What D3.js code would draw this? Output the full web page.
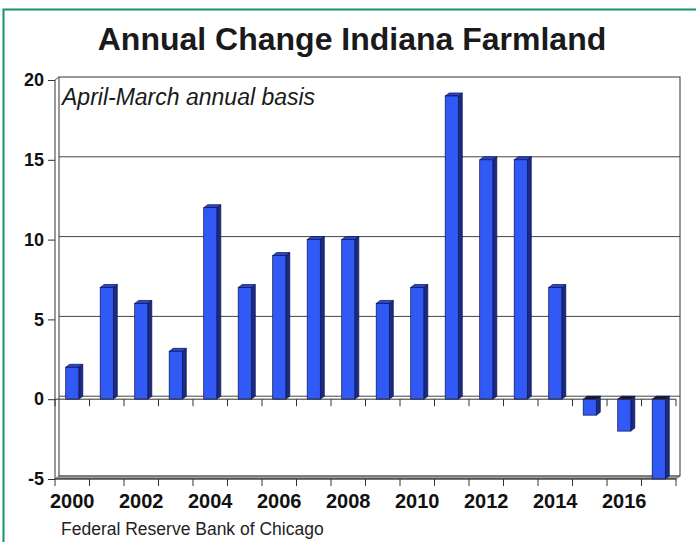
<!DOCTYPE html>
<html>
<head>
<meta charset="utf-8">
<script src="https://cdn.jsdelivr.net/npm/d3@7"></script>
<style>
	body { margin: 0; background: #fff; }
	svg { display: block; font-family: Arial, "Liberation Sans", sans-serif; }
</style>
</head>
<body>
<svg id="chart" width="696" height="542"></svg>
<script>
'use strict';

var years = ['2000', '2001', '2002', '2003', '2004', '2005', '2006', '2007', '2008',
	'2009', '2010', '2011', '2012', '2013', '2014', '2015', '2016', '2017'];
var change = [2, 7, 6, 3, 12, 7, 9, 10, 10, 6, 7, 19, 15, 15, 7, -1, -2, -5];
var yTicks = [-5, 0, 5, 10, 15, 20];
var xLabels = ['2000', '2002', '2004', '2006', '2008', '2010', '2012', '2014', '2016'];

(function() {
	var svg = d3.select('#chart');
	// depth offset of the pseudo 3d chart
	var dx = 4, dy = -3;

	var x = d3.scaleBand()
		.domain(years)
		.range([55, 676])
		.paddingInner(0.62)
		.paddingOuter(0.31);
	var y = d3.scaleLinear().domain([-5, 20]).range([479, 80]);
	var step = x.step();
	var left = 55, right = 676;

	// frame
	svg.append('path')
		.attr('d', 'M3.5,560 L3.5,9.5 L720,9.5')
		.attr('fill', 'none')
		.attr('stroke', '#17926c')
		.attr('stroke-width', 2);

	svg.append('text')
		.attr('x', 352).attr('y', 50)
		.attr('text-anchor', 'middle')
		.attr('font-size', 32).attr('font-weight', 'bold')
		.attr('fill', '#1a1a1a')
		.text('Annual Change Indiana Farmland');

	// back wall
	svg.append('rect')
		.attr('x', left + dx).attr('y', y(20) + dy)
		.attr('width', right - left)
		.attr('height', y(-5) - y(20))
		.attr('fill', '#fff')
		.attr('stroke', '#333').attr('stroke-width', 1);

	svg.selectAll('line.grid')
		.data(yTicks.filter(function(d) { return d > -5 && d < 20; }))
		.enter().append('line')
		.attr('class', 'grid')
		.attr('x1', left + dx).attr('x2', right + dx)
		.attr('y1', function(d) { return y(d) + dy; })
		.attr('y2', function(d) { return y(d) + dy; })
		.attr('stroke', '#444').attr('stroke-width', 1);

	// floor
	svg.append('path')
		.attr('d', 'M' + left + ',' + y(-5) + 'L' + (left + dx) + ',' + (y(-5) + dy) +
			'L' + (right + dx) + ',' + (y(-5) + dy) + 'L' + right + ',' + y(-5) + 'Z')
		.attr('fill', '#9a9a9a').attr('stroke', '#555').attr('stroke-width', 0.8);

	// side wall edge
	svg.append('path')
		.attr('d', 'M' + left + ',' + y(20) + 'L' + (left + dx) + ',' + (y(20) + dy))
		.attr('stroke', '#555').attr('fill', 'none');

	svg.append('text')
		.attr('x', 62).attr('y', 105)
		.attr('font-size', 23).attr('font-style', 'italic')
		.attr('fill', '#1a1a1a')
		.text('April-March annual basis');

	// bars
	var bars = svg.selectAll('g.bar')
		.data(years.map(function(d, i) { return { year: d, value: change[i] }; }))
		.enter().append('g')
		.attr('class', 'bar');

	bars.each(function(d) {
		var g = d3.select(this);
		var x0 = x(d.year), w = x.bandwidth();
		var yTop = y(Math.max(d.value, 0)), yBot = y(Math.min(d.value, 0));
		g.append('path')
			.attr('d', 'M' + (x0 + w) + ',' + yTop + 'l' + dx + ',' + dy + 'L' + (x0 + w + dx) + ',' + (yBot + dy) +
				'L' + (x0 + w) + ',' + yBot + 'Z')
			.attr('fill', '#1b2a86').attr('stroke', '#0c1447').attr('stroke-width', 0.7);
		g.append('path')
			.attr('d', 'M' + x0 + ',' + yTop + 'l' + dx + ',' + dy + 'l' + w + ',0l' + (-dx) + ',' + (-dy) + 'Z')
			.attr('fill', d.value < 0 ? '#0d1440' : '#2a46d8').attr('stroke', '#0c1447').attr('stroke-width', 0.7);
		g.append('rect')
			.attr('x', x0).attr('y', yTop)
			.attr('width', w).attr('height', yBot - yTop)
			.attr('fill', '#3159f5').attr('stroke', '#0c1447').attr('stroke-width', 0.7);
	});

	// y axis
	svg.append('line')
		.attr('x1', left).attr('x2', left)
		.attr('y1', y(20)).attr('y2', y(-5))
		.attr('stroke', '#333');
	var yAxis = svg.append('g')
		.attr('transform', 'translate(' + left + ',0)')
		.call(d3.axisLeft(y).tickValues(yTicks).tickSize(7).tickPadding(4)
			.tickFormat(function(d) { return String(d); }));
	yAxis.select('.domain').remove();
	yAxis.selectAll('line').attr('stroke', '#333');
	yAxis.selectAll('text')
		.attr('font-size', 18).attr('font-weight', 'bold')
		.attr('font-family', 'Arial, "Liberation Sans", sans-serif')
		.attr('fill', '#111');

	// category ticks at zero and at the floor
	var bounds = d3.range(years.length + 1).map(function(i) { return left + i * step; });
	[y(0), y(-5)].forEach(function(yy) {
		svg.append('line')
			.attr('x1', left).attr('x2', right)
			.attr('y1', yy).attr('y2', yy)
			.attr('stroke', '#333');
		svg.selectAll(null)
			.data(bounds)
			.enter().append('line')
			.attr('x1', function(d) { return d; }).attr('x2', function(d) { return d; })
			.attr('y1', yy).attr('y2', yy + 7)
			.attr('stroke', '#333');
	});

	svg.selectAll('text.xl')
		.data(xLabels)
		.enter().append('text')
		.attr('class', 'xl')
		.attr('x', function(d) { return x(d) + x.bandwidth() / 2; })
		.attr('y', 508)
		.attr('text-anchor', 'middle')
		.attr('font-size', 20).attr('font-weight', 'bold')
		.attr('fill', '#111')
		.text(function(d) { return d; });

	svg.append('text')
		.attr('x', 61).attr('y', 535)
		.attr('font-size', 17.5)
		.attr('fill', '#222')
		.text('Federal Reserve Bank of Chicago');
})();
</script>
</body>
</html>
